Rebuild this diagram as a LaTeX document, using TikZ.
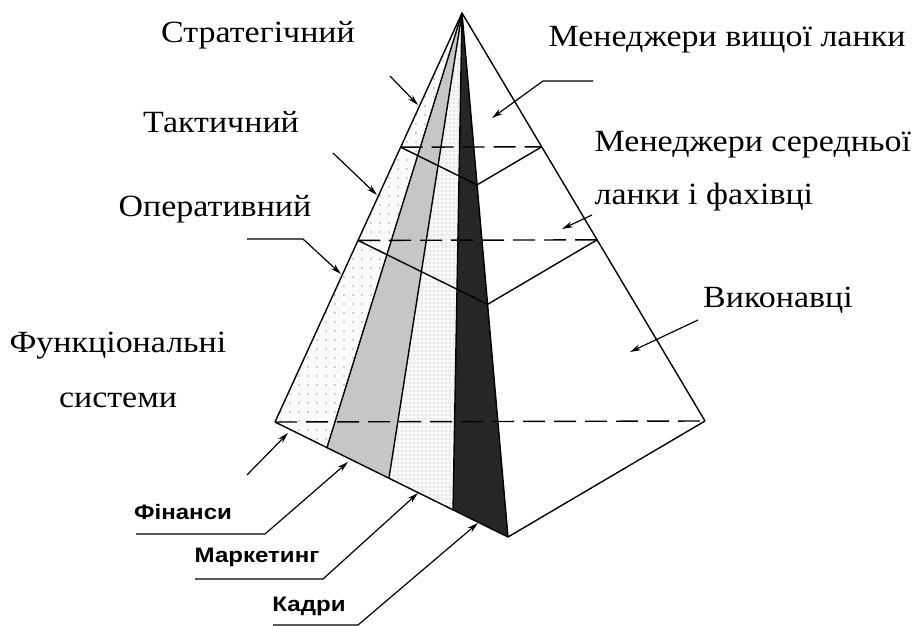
\documentclass[tikz,border=0pt]{standalone}
\usepackage{fontspec}
\setmainfont[FakeStretch=1.1]{Liberation Serif}
\newfontfamily\labelsans[FakeStretch=1.15]{Liberation Sans}
\usetikzlibrary{arrows.meta,calc}

\begin{document}
\begin{tikzpicture}[x=1bp,y=-1bp,line width=1.4bp,line join=round,
    lvl/.style={font=\fontsize{31}{36}\selectfont,inner sep=0pt},
    fn/.style={font=\labelsans\bfseries\fontsize{21}{25}\selectfont,inner sep=0pt},
    ptr/.style={-{Stealth[length=11bp,width=6bp]},line width=1.2bp},
    cut/.style={dash pattern=on 22bp off 9bp},
    dot/.style={fill=gray!70}]
  \useasboundingbox (0,0) rectangle (912,626);
  \coordinate (apex) at (462,13);
  \coordinate (lft) at (275,422);
  \coordinate (frt) at (508,537);
  \coordinate (rgt) at (705,421);
  \coordinate (b1) at ($(lft)!0.223!(frt)$);
  \coordinate (b2) at ($(lft)!0.489!(frt)$);
  \coordinate (b3) at ($(lft)!0.764!(frt)$);
  \fill[gray!4] (apex) -- (lft) -- (b1) -- cycle;
  \fill[gray!45] (apex) -- (b1) -- (b2) -- cycle;
  \fill[gray!6] (apex) -- (b2) -- (b3) -- cycle;
  \fill[black!85] (apex) -- (b3) -- (frt) -- cycle;
  \begin{scope}
    \clip (apex) -- (lft) -- (b1) -- cycle;
    \foreach \x in {272,281,...,470}
      \foreach \y in {16,25,...,450}
        \fill[dot] (\x,\y) circle (0.9bp);
  \end{scope}
  \begin{scope}
    \clip (apex) -- (b2) -- (b3) -- cycle;
    \foreach \x in {386,390,...,466}
      \foreach \y in {15,19,...,512}
        \fill[dot] (\x,\y) circle (0.7bp);
  \end{scope}
  \foreach \b in {b1,b2,b3}
    \draw (apex) -- (\b);
  \foreach \t/\n in {0.328/1,0.556/2} {
    \coordinate (l\n) at ($(apex)!\t!(lft)$);
    \coordinate (f\n) at ($(apex)!\t!(frt)$);
    \coordinate (r\n) at ($(apex)!\t!(rgt)$);
    \draw (l\n) -- (f\n) -- (r\n);
    \draw[cut] (l\n) -- (r\n);
  }
  \draw (lft) -- (frt) -- (rgt);
  \draw[cut] (lft) -- (rgt);
  \draw (lft) -- (apex) -- (rgt);
  \draw (apex) -- (frt);

  \node[lvl] (strat) at (258,35) {Стратегічний};
  \node[lvl] (takt) at (221,122) {Тактичний};
  \node[lvl] (oper) at (215,209) {Оперативний};
  \node[lvl,align=center,font=\fontsize{31}{56}\selectfont] (func) at (118,370) {Функціональні\\системи};
  \node[lvl] (top) at (727,40) {Менеджери вищої ланки};
  \node[lvl,align=left,anchor=west,font=\fontsize{31}{53}\selectfont] (mid) at (594,171) {Менеджери середньої\\ланки і фахівці};
  \node[lvl] (exec) at (778,300) {Виконавці};
  \node[fn] (fin) at (183,512) {Фінанси};
  \node[fn] (mark) at (257,557) {Маркетинг};
  \node[fn] (kadr) at (309,606) {Кадри};

  \coordinate (s1) at (390,76);   \coordinate (e1) at (418,105);
  \coordinate (s2) at (333,153);  \coordinate (e2) at (377,195);
  \coordinate (s3) at (247,239);  \coordinate (k3) at (303,239);  \coordinate (e3) at (341,274);
  \coordinate (s4) at (247,475);  \coordinate (e4) at (288,433);
  \coordinate (t1) at (593,81);   \coordinate (j1) at (543,81);   \coordinate (g1) at (492,118);
  \coordinate (t2) at (592,215);  \coordinate (g2) at (562,229);
  \coordinate (t3) at (698,320);  \coordinate (g3) at (630,352);
  \coordinate (u1) at (136,534);  \coordinate (v1) at (265,534);  \coordinate (w1) at (348,462);
  \coordinate (u2) at (195,579);  \coordinate (v2) at (323,579);  \coordinate (w2) at (418,493);
  \coordinate (u3) at (273,625);  \coordinate (v3) at (358,625);  \coordinate (w3) at (478,523);

  \draw[ptr] (s1) -- (e1);
  \draw[ptr] (s2) -- (e2);
  \draw[ptr] (s3) -- (k3) -- (e3);
  \draw[ptr] (s4) -- (e4);
  \draw[ptr] (t1) -- (j1) -- (g1);
  \draw[ptr] (t2) -- (g2);
  \draw[ptr] (t3) -- (g3);
  \foreach \i in {1,2,3}
    \draw[ptr] (u\i) -- (v\i) -- (w\i);
\end{tikzpicture}
\end{document}
